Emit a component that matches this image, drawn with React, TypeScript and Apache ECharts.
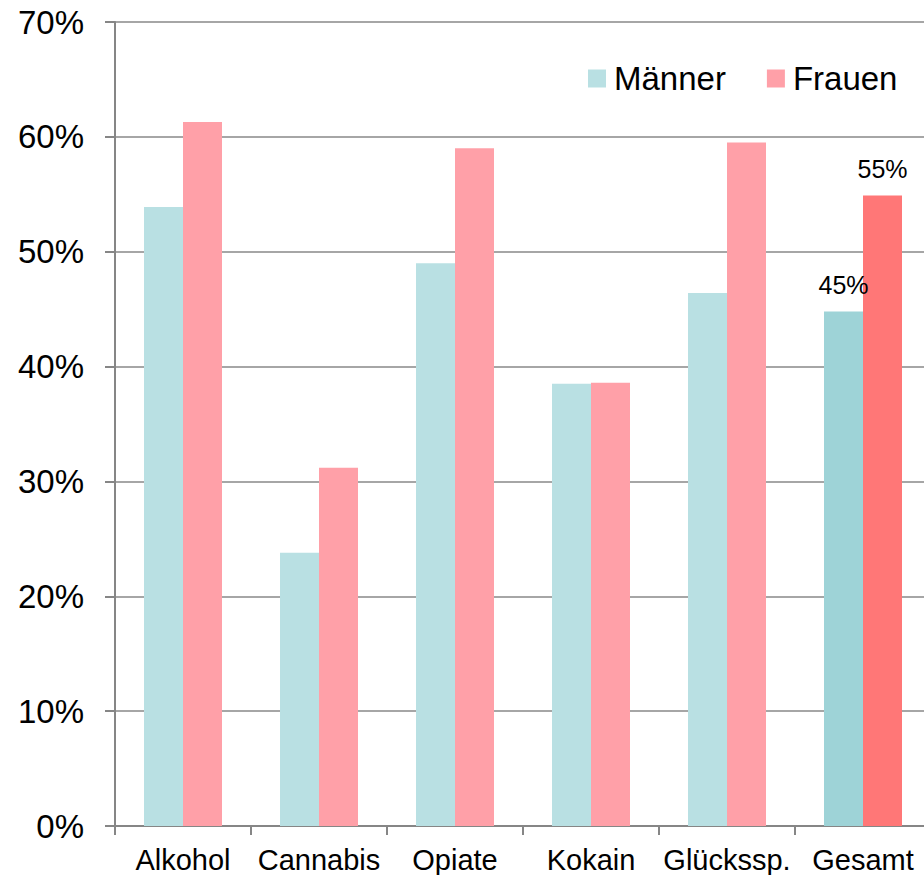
import React, { useEffect, useRef } from "react";
import * as echarts from "echarts";

const categories = ["Alkohol", "Cannabis", "Opiate", "Kokain", "Glückssp.", "Gesamt"];
const maenner = [53.9, 23.8, 49.0, 38.5, 46.4, 44.8];
const frauen = [61.3, 31.2, 59.0, 38.6, 59.5, 54.9];
const gesamtLabels = ["45%", "55%"];

const FONT = "'Liberation Sans', Arial, sans-serif";
const M_COLOR = "#B9E0E3";
const F_COLOR = "#FFA0A8";
const M_TOTAL = "#9ED3D7";
const F_TOTAL = "#FF7777";

function buildData(values: number[], base: string, total: string, label: string) {
  return values.map((v, i) => {
    if (i === values.length - 1) {
      return {
        value: v,
        itemStyle: { color: total },
        label: {
          show: true,
          position: "top",
          distance: 14,
          formatter: () => label,
          fontSize: 25,
          color: "#000",
          fontFamily: FONT,
        },
      };
    }
    return { value: v, itemStyle: { color: base } };
  });
}

export default function App() {
  const ref = useRef<HTMLDivElement>(null);
  useEffect(() => {
    if (!ref.current) return;
    const chart = echarts.init(ref.current, undefined, { renderer: "svg" });
    chart.setOption({
      animation: false,
      backgroundColor: "#fff",
      legend: {
        left: 583,
        top: 57,
        icon: "rect",
        itemWidth: 18,
        itemHeight: 18,
        itemGap: 41,
        textStyle: { fontSize: 33, color: "#000", fontFamily: FONT, padding: [0, 0, 0, 3] },
        data: ["Männer", "Frauen"],
      },
      grid: { left: 115, top: 22, bottom: 49, width: 816, containLabel: false },
      xAxis: {
        type: "category",
        data: categories,
        axisLine: { lineStyle: { color: "#868686", width: 2 } },
        axisTick: { show: true, length: 9, lineStyle: { color: "#868686", width: 2 } },
        axisLabel: {
          interval: 0,
          fontSize: 29,
          color: "#000",
          fontFamily: FONT,
          margin: 19,
        },
      },
      yAxis: {
        type: "value",
        min: 0,
        max: 70,
        interval: 10,
        axisLine: { show: true, lineStyle: { color: "#868686", width: 2 } },
        axisTick: { show: true, length: 10, lineStyle: { color: "#868686", width: 2 } },
        splitLine: { lineStyle: { color: "#A6A6A6", width: 2 } },
        axisLabel: {
          fontSize: 33,
          color: "#000",
          fontFamily: FONT,
          margin: 31,
          formatter: (v: number) => v + "%",
        },
      },
      series: [
        {
          name: "Männer",
          type: "bar",
          barWidth: 39,
          barGap: "0%",
          itemStyle: { color: M_COLOR },
          data: buildData(maenner, M_COLOR, M_TOTAL, gesamtLabels[0]),
        },
        {
          name: "Frauen",
          type: "bar",
          barWidth: 39,
          barGap: "0%",
          itemStyle: { color: F_COLOR },
          data: buildData(frauen, F_COLOR, F_TOTAL, gesamtLabels[1]),
        },
      ],
    });
    return () => chart.dispose();
  }, []);
  return (
    <div style={{ position: "absolute", left: 0, top: 0, width: 924, height: 875, overflow: "hidden" }}>
      <div ref={ref} style={{ width: 932, height: 875 }} />
    </div>
  );
}
